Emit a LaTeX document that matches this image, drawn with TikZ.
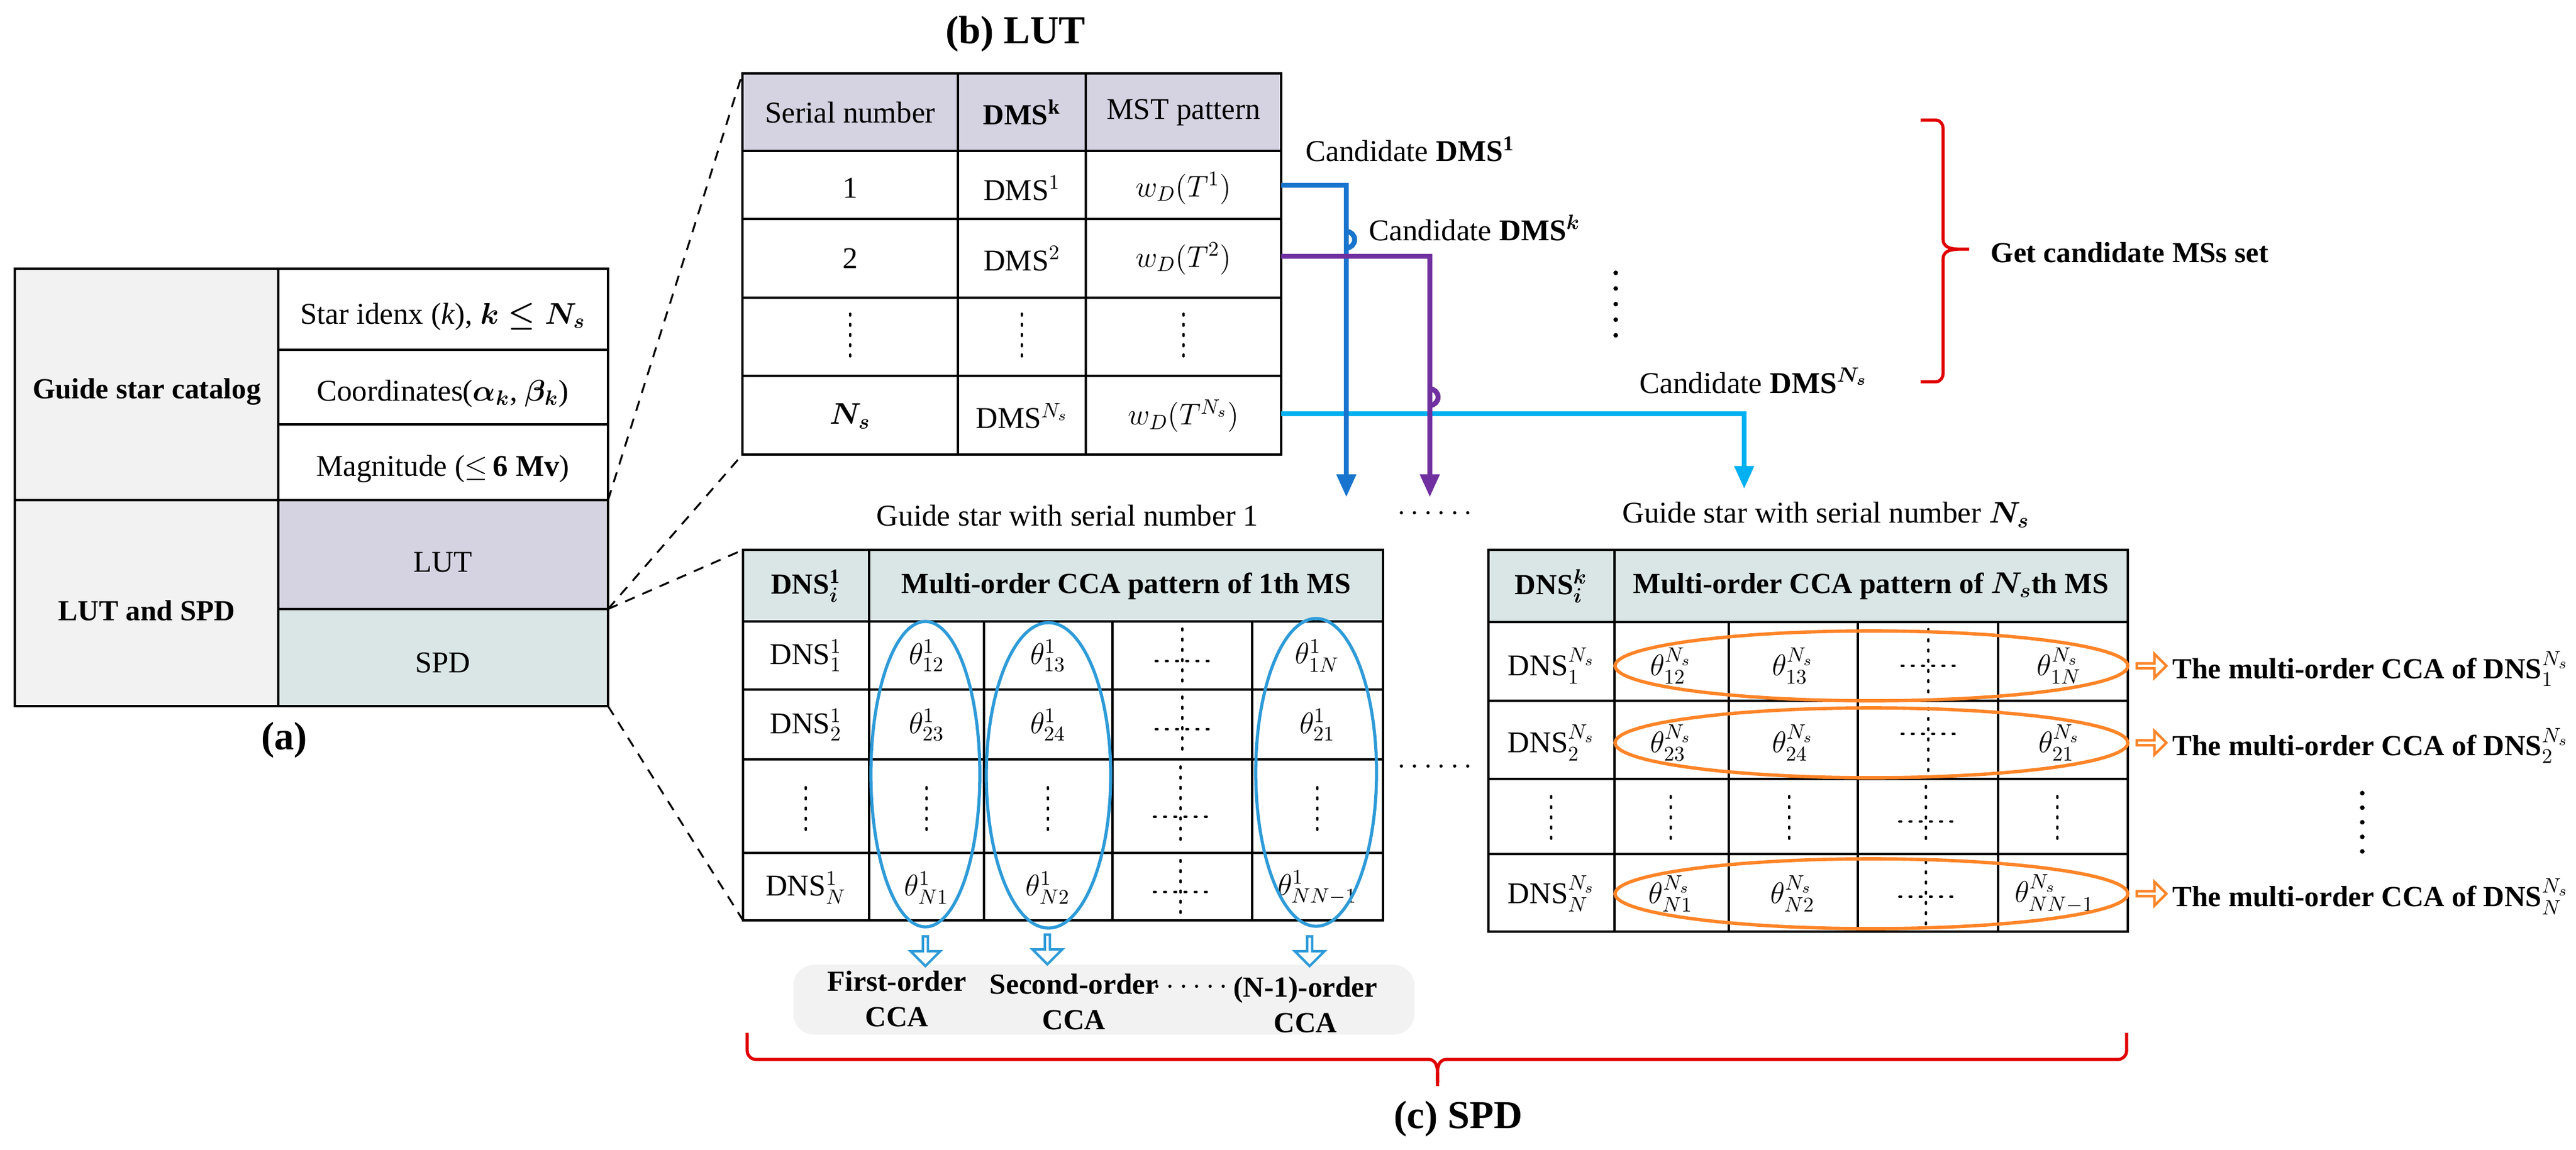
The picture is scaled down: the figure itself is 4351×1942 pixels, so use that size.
\documentclass[tikz,border=0pt]{standalone}
\usepackage{amsmath,amssymb}
\usepackage{fontspec}
\setmainfont{Liberation Serif}
\usetikzlibrary{arrows.meta,shapes.arrows}
\definecolor{cgray}{HTML}{F2F2F2}
\definecolor{clut}{HTML}{D5D3E1}
\definecolor{cspd}{HTML}{DAE6E5}
\definecolor{cblue}{HTML}{1874CD}
\definecolor{cpurp}{HTML}{7030A0}
\definecolor{ccyan}{HTML}{00B0F0}
\definecolor{cell}{HTML}{2E9BD8}
\definecolor{corange}{HTML}{FF8427}
\definecolor{cred}{HTML}{E00000}
\tikzset{
 txt/.style={font=\fontsize{14.5}{17}\selectfont, inner sep=0pt},
 btxt/.style={font=\fontsize{14}{17}\selectfont\bfseries, inner sep=0pt},
 title/.style={font=\fontsize{19}{22}\selectfont\bfseries, inner sep=0pt},
 grid/.style={line width=1.3pt},
 zdash/.style={line width=0.9pt, dash pattern=on 5pt off 4pt},
 dts/.style={line width=1.1pt, dash pattern=on 0.9pt off 4pt, line cap=round},
 cand/.style={line width=2.4pt,-{Triangle[width=9pt,length=11pt]}},
 hollowd/.style={single arrow, draw=cell, fill=white, line width=1.2pt, rotate=-90, minimum height=0.5cm, minimum width=0.5cm, single arrow head extend=0.1cm, inner sep=0pt},
 hollowr/.style={single arrow, draw=corange, fill=white, line width=1.2pt, minimum height=0.5cm, minimum width=0.4cm, single arrow head extend=0.08cm, inner sep=0pt},
}
\newcommand{\crossdots}[4]{% x, ytop, ybot, ymid
 \draw[dts] (#1,#2+12) -- (#1,#3-12);
 \draw[dts] (#1-45,#4) -- (#1+45,#4);}
\begin{document}
\begin{tikzpicture}[x=0.01cm,y=-0.01cm]
\useasboundingbox (0,0) rectangle (4351,1942);
% ---------------- (a)
\fill[cgray] (25,454) rectangle (470,1193);
\fill[clut] (470,845) rectangle (1027,1029);
\fill[cspd] (470,1029) rectangle (1027,1193);
\draw[grid] (25,454) rectangle (1027,1193);
\draw[grid] (470,454) -- (470,1193) (25,845) -- (1027,845) (470,591) -- (1027,591) (470,717) -- (1027,717) (470,1029) -- (1027,1029);
\node[btxt] (gsc) at (248,662) {Guide star catalog};
\node[btxt] (las) at (248,1032) {LUT and SPD};
\node[txt] (sid) at (748,535) {Star idenx (\textit{k}), $\boldsymbol{k\le N_s}$};
\node[txt] (crd) at (748,665) {Coordinates($\boldsymbol{\alpha_k}$, $\boldsymbol{\beta_k}$)};
\node[txt] (mag) at (748,792) {Magnitude ($\le$\,\textbf{6 Mv})};
\node[txt] (alut) at (748,950) {LUT};
\node[txt] (aspd) at (748,1120) {SPD};
\node[title] (la) at (480,1250) {(a)};
\coordinate (a1) at (1027,845); \coordinate (a2) at (1027,1029); \coordinate (a3) at (1027,1193);
% ---------------- (b) LUT
\node[title] (lb) at (1715,57) {(b) LUT};
\fill[clut] (1254,124) rectangle (2164,255);
\draw[grid] (1254,124) rectangle (2164,768);
\foreach \y in {255,370,503,635} \draw[grid] (1254,\y) -- (2164,\y);
\foreach \x in {1618,1834} \draw[grid] (\x,124) -- (\x,768);
\coordinate (b1) at (1254,124); \coordinate (b2) at (1254,768);
\node[txt] at (1436,190) {Serial number};
\node[btxt] at (1726,190) {DMS$^{\mathbf{k}}$};
\node[txt] at (1999,190) {MST pattern};
\node[txt] at (1436,318) {1};
\node[txt] at (1726,318) {DMS$^1$};
\node[txt] (w1) at (1999,318) {$w_D(T^1)$};
\node[txt] at (1436,437) {2};
\node[txt] at (1726,437) {DMS$^2$};
\node[txt] (w2) at (1999,437) {$w_D(T^2)$};
\foreach \x in {1436,1726,1999} \draw[dts] (\x,530) -- (\x,610);
\node[txt] at (1436,703) {$\boldsymbol{N_s}$};
\node[txt] at (1726,703) {DMS$^{N_s}$};
\node[txt] (w3) at (1999,703) {$w_D(T^{N_s})$};
\coordinate (r1) at (2164,313); \coordinate (r2) at (2164,433); \coordinate (r3) at (2164,699);
% candidate labels
\node[txt, anchor=west] (c1) at (2205,252) {Candidate \textbf{DMS$^{\mathbf 1}$}};
\node[txt, anchor=west] (ck) at (2312,385) {Candidate \textbf{DMS$^{\boldsymbol k}$}};
\node[txt, anchor=west] (cn) at (2769,643) {Candidate \textbf{DMS$^{\boldsymbol{N_s}}$}};
\draw[line width=2.2pt, line cap=round, dash pattern=on 0pt off 7.5pt] (2729,461) -- (2729,572);
% red brace
\draw[cred, line width=1.5pt] (3244,203) -- (3270,203) to[out=0,in=90] (3282,218) -- (3282,405) to[out=-90,in=180] (3326,421) to[out=180,in=90] (3282,437) -- (3282,630) to[out=-90,in=0] (3270,645) -- (3244,645);
\node[btxt, anchor=west] (gcm) at (3362,427) {Get candidate MSs set};
% ---------------- SPD table 1
\node[txt] (g1) at (1803,871) {Guide star with serial number 1};
\node[txt] at (2428,868) {$\cdots\cdots$};
\coordinate (t1) at (2274,840); \coordinate (t2) at (2415,840); \coordinate (t3) at (2946,826);
\fill[cspd] (1255,929) rectangle (2336,1050);
\draw[grid] (1255,929) rectangle (2336,1555);
\foreach \y in {1050,1165,1283,1441} \draw[grid] (1255,\y) -- (2336,\y);
\draw[grid] (1468,929) -- (1468,1555);
\foreach \x in {1662,1879,2115} \draw[grid] (\x,1050) -- (\x,1555);
\coordinate (s1) at (1255,929); \coordinate (s2) at (1255,1555);
\node[btxt] at (1361,990) {DNS$^{\mathbf 1}_{\boldsymbol i}$};
\node[btxt] at (1902,990) {Multi-order CCA pattern of 1th MS};
\node[txt] at (1361,1108) {DNS$^1_1$};
\node[txt] at (1361,1225) {DNS$^1_2$};
\node[txt] at (1361,1500) {DNS$^1_N$};
\node[txt] at (1565,1108) {$\theta^1_{12}$};
\node[txt] at (1770,1108) {$\theta^1_{13}$};
\node[txt] at (2225,1108) {$\theta^1_{1N}$};
\node[txt] at (1565,1225) {$\theta^1_{23}$};
\node[txt] at (1770,1225) {$\theta^1_{24}$};
\node[txt] at (2225,1225) {$\theta^1_{21}$};
\node[txt] at (1565,1500) {$\theta^1_{N1}$};
\node[txt] at (1770,1500) {$\theta^1_{N2}$};
\node[txt] at (2225,1500) {$\theta^1_{NN-1}$};
\foreach \x in {1361,1565,1770,2225} \draw[dts] (\x,1330) -- (\x,1415);
\crossdots{1997}{1050}{1165}{1117}
\crossdots{1997}{1165}{1283}{1232}
\crossdots{1994}{1283}{1441}{1380}
\crossdots{1994}{1441}{1555}{1507}
\draw[cell, line width=1.5pt] (1563,1308) ellipse [x radius=92, y radius=258];
\draw[cell, line width=1.5pt] (1771,1310) ellipse [x radius=105, y radius=258];
\draw[cell, line width=1.5pt] (2223,1305) ellipse [x radius=102, y radius=260];
\node[txt] at (2428,1296) {$\cdots\cdots$};
% CCA box
\fill[cgray, rounded corners=10pt] (1340,1630) rectangle (2389,1748);
\node[hollowd] (d1) at (1563,1605) {};
\node[hollowd] (d2) at (1769,1602) {};
\node[hollowd] (d3) at (2212,1605) {};
\node[btxt, align=center] (o1) at (1515,1688) {First-order\\CCA};
\node[btxt, align=center] (o2) at (1814,1693) {Second-order\\CCA};
\node[btxt] at (2015,1668) {$\cdots\cdots$};
\node[btxt, align=center] (o3) at (2205,1698) {(N-1)-order\\CCA};
% ---------------- SPD table Ns
\node[txt] (g2) at (3084,870) {Guide star with serial number $\boldsymbol{N_s}$};
\fill[cspd] (2514,929) rectangle (3594,1051);
\draw[grid] (2514,929) rectangle (3594,1574);
\foreach \y in {1051,1184,1316,1443} \draw[grid] (2514,\y) -- (3594,\y);
\draw[grid] (2727,929) -- (2727,1574);
\foreach \x in {2920,3138,3375} \draw[grid] (\x,1051) -- (\x,1574);
\node[btxt] at (2620,990) {DNS$^{\boldsymbol k}_{\boldsymbol i}$};
\node[btxt] at (3160,990) {Multi-order CCA pattern of $\boldsymbol{N_s}$th MS};
\node[txt] at (2620,1125) {DNS$^{N_s}_1$};
\node[txt] at (2620,1255) {DNS$^{N_s}_2$};
\node[txt] at (2620,1510) {DNS$^{N_s}_N$};
\node[txt] at (2822,1125) {$\theta^{N_s}_{12}$};
\node[txt] at (3028,1125) {$\theta^{N_s}_{13}$};
\node[txt] at (3478,1125) {$\theta^{N_s}_{1N}$};
\node[txt] at (2822,1255) {$\theta^{N_s}_{23}$};
\node[txt] at (3028,1255) {$\theta^{N_s}_{24}$};
\node[txt] at (3478,1255) {$\theta^{N_s}_{21}$};
\node[txt] at (2822,1510) {$\theta^{N_s}_{N1}$};
\node[txt] at (3028,1510) {$\theta^{N_s}_{N2}$};
\node[txt] at (3470,1510) {$\theta^{N_s}_{NN-1}$};
\foreach \x in {2620,2822,3022,3475} \draw[dts] (\x,1345) -- (\x,1430);
\crossdots{3257}{1051}{1184}{1125}
\crossdots{3257}{1184}{1316}{1240}
\crossdots{3253}{1316}{1443}{1388}
\crossdots{3253}{1443}{1574}{1515}
\foreach \y in {1125,1255,1510}
  \draw[corange, line width=1.6pt] (3161,\y) ellipse [x radius=433, y radius=59];
\node[hollowr] (h1) at (3632,1125) {};
\node[hollowr] (h2) at (3632,1255) {};
\node[hollowr] (h3) at (3632,1510) {};
\node[btxt, anchor=west] (m1) at (3669,1130) {The multi-order CCA of DNS$^{N_s}_1$};
\node[btxt, anchor=west] (m2) at (3669,1260) {The multi-order CCA of DNS$^{N_s}_2$};
\node[btxt, anchor=west] (m3) at (3669,1515) {The multi-order CCA of DNS$^{N_s}_N$};
\draw[line width=2.2pt, line cap=round, dash pattern=on 0pt off 7pt] (3990,1340) -- (3990,1450);
% bottom brace
\draw[cred, line width=1.5pt] (1262,1745) -- (1262,1775) to[out=-90,in=180] (1277,1790) -- (2413,1790) to[out=0,in=90] (2428,1835) to[out=90,in=180] (2443,1790) -- (3577,1790) to[out=0,in=-90] (3592,1775) -- (3592,1745);
\node[title] (lc) at (2463,1890) {(c) SPD};
% ---------------- dashed zoom lines
\draw[zdash] (a1) -- (b1);
\draw[zdash] (a2) -- (b2);
\draw[zdash] (a2) -- (s1);
\draw[zdash] (a3) -- (s2);
% ---------------- candidate connectors
\draw[ccyan, cand] (r3) -- (2946,699) -- (t3);
\draw[cblue, cand] (r1) -- (2274,313) -- (2274,419) arc[start angle=90, end angle=-90, radius=14] -- (t1);
\draw[cpurp, cand] (r2) -- (2415,433) -- (2415,685) arc[start angle=90, end angle=-90, radius=14] -- (t2);
\end{tikzpicture}
\end{document}
